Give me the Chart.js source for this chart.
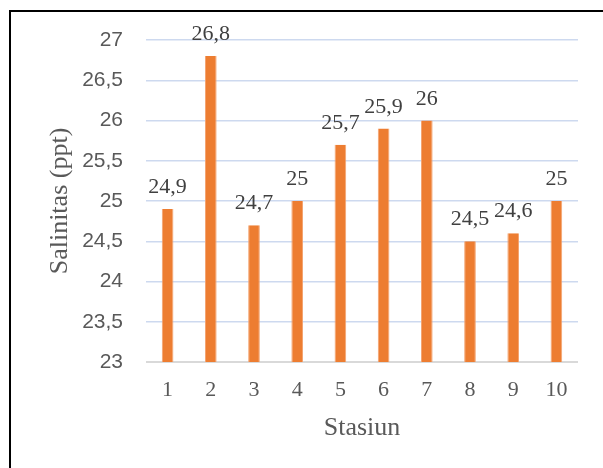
<!DOCTYPE html>
<html>
<head>
<meta charset="utf-8">
<script src="https://cdn.jsdelivr.net/npm/chart.js@4.4.1/dist/chart.umd.min.js"></script>
<style>
  html, body { margin: 0; padding: 0; background: #ffffff; }
  #wrap { position: relative; width: 603px; height: 468px; overflow: hidden; }
  #c { position: absolute; left: 0; top: 0; }
  .frame-top { position: absolute; left: 9px; top: 10px; width: 600px; height: 2px; background: #000; }
  .frame-left { position: absolute; left: 9px; top: 10px; width: 2px; height: 470px; background: #000; }
</style>
</head>
<body>
<div id="wrap">
  <canvas id="c" width="603" height="468"></canvas>
  <div class="frame-top"></div>
  <div class="frame-left"></div>
</div>
<script>
// Salinity per sampling station
const stations = ['1', '2', '3', '4', '5', '6', '7', '8', '9', '10'];
const salinity = [24.9, 26.8, 24.7, 25, 25.7, 25.9, 26, 24.5, 24.6, 25];
const yMin = 23;
const yMax = 27;
const yStep = 0.5;

const comma = v => String(v).replace('.', ',');

// Value labels above each bar
const valueLabels = {
  id: 'valueLabels',
  afterDatasetsDraw(chart) {
    const ctx = chart.ctx;
    const meta = chart.getDatasetMeta(0);
    ctx.save();
    ctx.font = '22px "Liberation Serif", "Times New Roman", serif';
    ctx.fillStyle = '#404040';
    ctx.textAlign = 'center';
    ctx.textBaseline = 'alphabetic';
    meta.data.forEach((bar, i) => {
      ctx.fillText(comma(salinity[i]), bar.x, bar.y - 16);
    });
    ctx.restore();
  }
};

new Chart(document.getElementById('c'), {
  type: 'bar',
  data: {
    labels: stations,
    datasets: [{
      data: salinity,
      backgroundColor: '#ED7D31',
      borderColor: '#F4A36F',
      borderWidth: { left: 1, right: 1, top: 0, bottom: 0 },
      borderSkipped: false,
      barPercentage: 0.27,
      categoryPercentage: 1
    }]
  },
  options: {
    responsive: false,
    devicePixelRatio: 1,
    animation: false,
    layout: { padding: { top: 40, right: 25, left: 0, bottom: 0 } },
    plugins: { legend: { display: false }, tooltip: { enabled: false } },
    scales: {
      x: {
        grid: { display: false, drawTicks: false },
        border: { display: false },
        ticks: {
          color: '#595959',
          padding: 15,
          font: { family: '"Liberation Serif", "Times New Roman", serif', size: 22 }
        },
        title: {
          display: true,
          text: 'Stasiun',
          color: '#595959',
          font: { family: '"Liberation Serif", "Times New Roman", serif', size: 26 },
          padding: { top: 0, bottom: 24 }
        },
        afterFit(scale) { scale.height = 106; }
      },
      y: {
        min: yMin,
        max: yMax,
        grid: {
          drawTicks: false,
          lineWidth: ctx => ctx.tick && ctx.tick.value === yMin ? 2 : 1.5,
          color: ctx => ctx.tick && ctx.tick.value === yMin ? '#d9d9d9' : '#cdd9ef'
        },
        border: { display: false },
        ticks: {
          stepSize: yStep,
          color: '#595959',
          padding: 23,
          font: { family: '"Liberation Sans", Arial, sans-serif', size: 21 },
          callback: v => comma(v)
        },
        title: {
          display: true,
          text: 'Salinitas (ppt)',
          color: '#595959',
          font: { family: '"Liberation Serif", "Times New Roman", serif', size: 26 },
          padding: { top: 45, bottom: 0 }
        },
        afterFit(scale) { scale.width = 146; }
      }
    }
  },
  plugins: [valueLabels]
});
</script>
</body>
</html>
